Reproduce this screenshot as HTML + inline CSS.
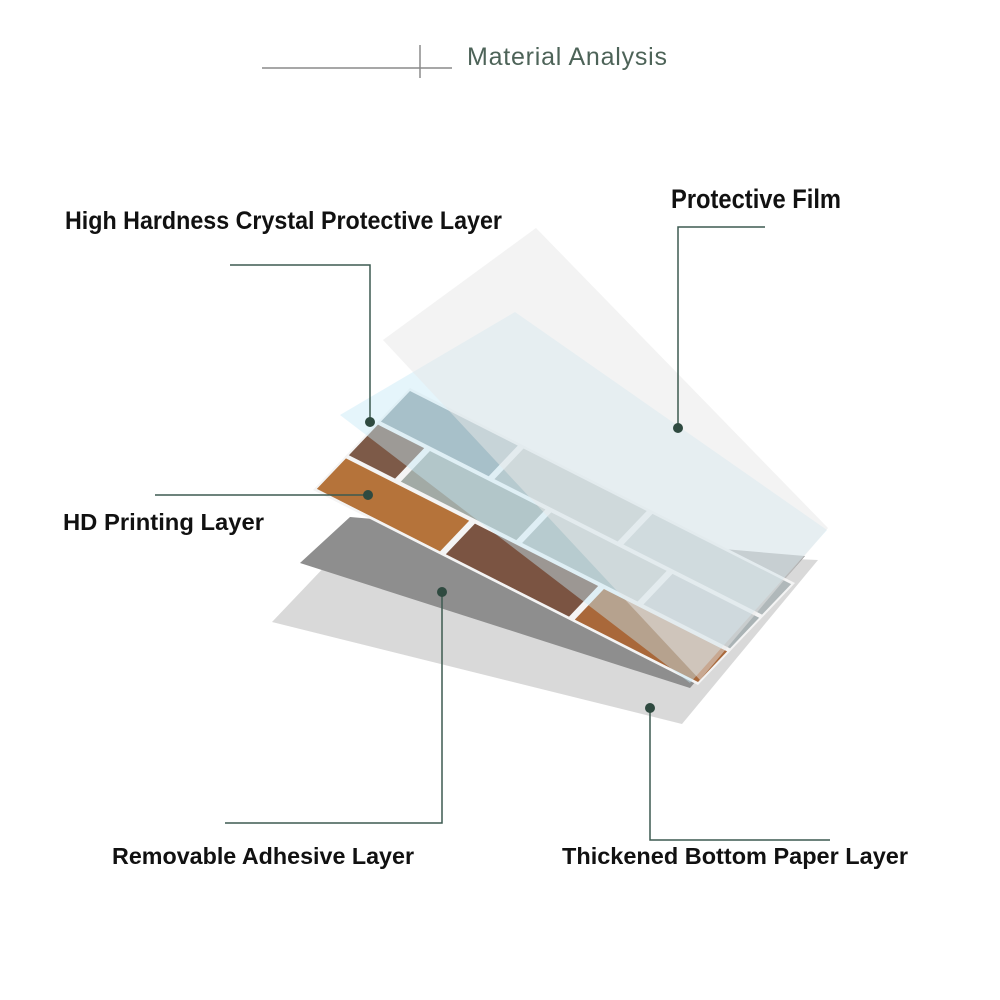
<!DOCTYPE html>
<html><head><meta charset="utf-8"><style>
html,body{margin:0;padding:0;background:#fff;}
svg{display:block;}
.lb{font-family:"Liberation Sans Narrow","Liberation Sans",sans-serif;font-weight:bold;fill:#111;}
</style></head><body>
<svg width="1000" height="1000" viewBox="0 0 1000 1000" xmlns="http://www.w3.org/2000/svg">
<rect width="1000" height="1000" fill="#fff"/>
<line x1="262" y1="68" x2="452" y2="68" stroke="#8a8a8a" stroke-width="1.5"/>
<line x1="420" y1="45" x2="420" y2="78" stroke="#8a8a8a" stroke-width="1.5"/>
<text x="467" y="65" font-family="Liberation Sans, sans-serif" font-size="25" fill="#4d6358" textLength="200">Material Analysis</text>

<polygon points="272,622 350,540 818,560 682,724" fill="#d9d9d9"/>
<polygon points="300,563 350,517 805,556 690,688" fill="#8e8e8e"/>

<g transform="matrix(385,195,97,-102,313,490)">
  <polygon points="0,0 1,0 1,1 0,1" fill="#f4f4f4"/>
  <rect x="0.005" y="0.02" width="0.32" height="0.3" fill="#b5733a"/>
  <rect x="0.34" y="0.02" width="0.32" height="0.3" fill="#7b5442"/>
  <rect x="0.675" y="0.02" width="0.32" height="0.3" fill="#a9683a"/>
  <rect x="0.005" y="0.35" width="0.12" height="0.3" fill="#7d5a48"/>
  <rect x="0.14" y="0.35" width="0.3" height="0.3" fill="#a2aaa5"/>
  <rect x="0.455" y="0.35" width="0.3" height="0.3" fill="#abb2b0"/>
  <rect x="0.77" y="0.35" width="0.225" height="0.3" fill="#aab3b5"/>
  <rect x="0.005" y="0.68" width="0.28" height="0.3" fill="#8f9ea5"/>
  <rect x="0.3" y="0.68" width="0.32" height="0.3" fill="#aab1b0"/>
  <rect x="0.635" y="0.68" width="0.36" height="0.3" fill="#b0b8ba"/>
</g>

<polygon points="340,415 515,312 827,530 690,683" fill="#c6e8f6" fill-opacity="0.45"/>
<polygon points="383,340 536,228 828,528 700,680" fill="#e8e8e8" fill-opacity="0.5"/>

<g stroke="#3d5a50" stroke-width="1.5" fill="none">
  <polyline points="230,265 370,265 370,422"/>
  <polyline points="765,227 678,227 678,428"/>
  <polyline points="155,495 370,495"/>
  <polyline points="225,823 442,823 442,592"/>
  <polyline points="830,840 650,840 650,708"/>
</g>
<g fill="#2f4a40">
  <circle cx="370" cy="422" r="5"/>
  <circle cx="678" cy="428" r="5"/>
  <circle cx="368" cy="495" r="5"/>
  <circle cx="442" cy="592" r="5"/>
  <circle cx="650" cy="708" r="5"/>
</g>

<text class="lb" x="65" y="229" font-size="25" textLength="437" lengthAdjust="spacingAndGlyphs">High Hardness Crystal Protective Layer</text>
<text class="lb" x="671" y="208" font-size="27" textLength="170" lengthAdjust="spacingAndGlyphs">Protective Film</text>
<text class="lb" x="63" y="530" font-size="23" textLength="201" lengthAdjust="spacingAndGlyphs">HD Printing Layer</text>
<text class="lb" x="112" y="864" font-size="23" textLength="302" lengthAdjust="spacingAndGlyphs">Removable Adhesive Layer</text>
<text class="lb" x="562" y="864" font-size="23" textLength="346" lengthAdjust="spacingAndGlyphs">Thickened Bottom Paper Layer</text>
</svg>
</body></html>
